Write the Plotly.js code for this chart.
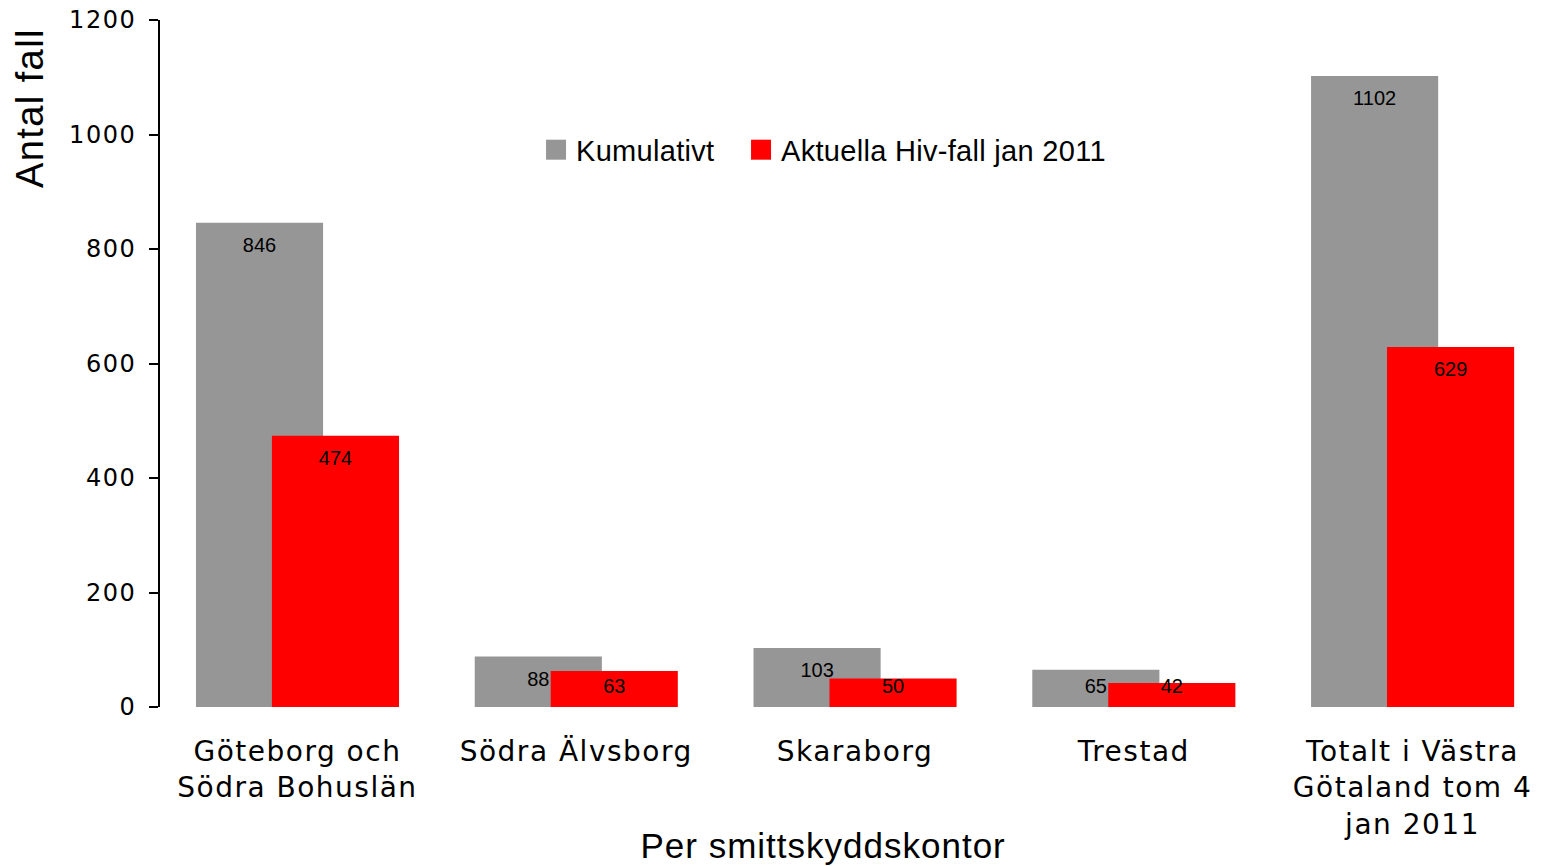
<!DOCTYPE html>
<html><head><meta charset="utf-8">
<script src="https://cdn.plot.ly/plotly-3.0.1.min.js"></script>
<style>
html,body{margin:0;padding:0;background:#fff;}
#chart{width:1543px;height:866px;}
.xtick text{letter-spacing:1.5px;}
.ytick text{letter-spacing:1.5px;}
.legendtext{letter-spacing:0.3px;}
.annotation[data-index="0"] text{letter-spacing:1.4px;}
.annotation[data-index="1"] text{letter-spacing:1px;}
</style></head><body><div id="chart"></div>
<script>
const categories = ["Göteborg och<br>Södra Bohuslän", "Södra Älvsborg", "Skaraborg", "Trestad", "Totalt i Västra<br>Götaland tom 4<br>jan 2011"];
const kumulativt = [846, 88, 103, 65, 1102];
const aktuella = [474, 63, 50, 42, 629];
const seriesNames = ["Kumulativt", "Aktuella Hiv-fall jan 2011"];
const yTickVals = [0, 200, 400, 600, 800, 1000, 1200];
const yTitle = "Antal fall";
const xTitle = "Per smittskyddskontor";

const labelFont = {family: "Liberation Sans, Arial, sans-serif", size: 20, color: "#000"};

const traces = [
  {
    type: "bar", name: seriesNames[0], x: categories, y: kumulativt,
    marker: {color: "#969696"}, width: 0.456, offset: -0.364,
    text: kumulativt.map(String), textposition: "inside", insidetextanchor: "end",
    textangle: 0, constraintext: "none", textfont: labelFont, insidetextfont: labelFont,
    hoverinfo: "none"
  },
  {
    type: "bar", name: seriesNames[1], x: categories, y: aktuella,
    marker: {color: "#FF0000"}, width: 0.456, offset: -0.0915,
    text: aktuella.map(String), textposition: "inside", insidetextanchor: "end",
    textangle: 0, constraintext: "none", textfont: labelFont, insidetextfont: labelFont,
    hoverinfo: "none"
  }
];

const layout = {
  width: 1543, height: 866,
  margin: {l: 160, r: 0, t: 20, b: 159},
  paper_bgcolor: "#fff", plot_bgcolor: "#fff",
  barmode: "overlay",
  showlegend: true,
  legend: {
    orientation: "h", x: 0.2719, xanchor: "left", y: 0.811, yanchor: "middle",
    entrywidth: 160,
    font: {family: "Liberation Sans, Arial, sans-serif", size: 29, color: "#000"},
    bgcolor: "rgba(0,0,0,0)", traceorder: "normal"
  },
  xaxis: {
    type: "category", range: [-0.493, 4.468],
    showline: false, ticks: "", showgrid: false, zeroline: false,
    tickfont: {family: "DejaVu Sans, Verdana, sans-serif", size: 28, color: "#000"},
    ticklabelstandoff: 25
  },
  yaxis: {
    range: [0, 1200], tickmode: "array", tickvals: yTickVals,
    showline: true, linecolor: "#000", linewidth: 2,
    ticks: "outside", ticklen: 9, tickwidth: 2, tickcolor: "#000",
    showgrid: false, zeroline: false,
    tickfont: {family: "DejaVu Sans, Verdana, sans-serif", size: 24, color: "#000"},
    ticklabelstandoff: 8
  },
  annotations: [
    {
      text: yTitle, xref: "paper", yref: "paper", x: -0.094, y: 0.872,
      xanchor: "center", yanchor: "middle", textangle: -90, showarrow: false,
      font: {family: "Liberation Sans, Arial, sans-serif", size: 38, color: "#000"}
    },
    {
      text: xTitle, xref: "paper", yref: "paper", x: 0.4794, y: -0.2009,
      xanchor: "center", yanchor: "middle", showarrow: false,
      font: {family: "Liberation Sans, Arial, sans-serif", size: 35, color: "#000"}
    }
  ]
};

Plotly.newPlot("chart", traces, layout, {displayModeBar: false, staticPlot: true}).then(function(){
  document.querySelectorAll(".legendpoints path").forEach(function(p){
    p.setAttribute("d", "M10,10H-10V-10H10Z");
  });
  // let the last legend entry show in full
  document.querySelectorAll(".legend [clip-path]").forEach(function(el){
    el.removeAttribute("clip-path");
  });
  // place inside labels the way the reference does: a bit lower in tall bars,
  // and just above the base in short bars
  document.querySelectorAll(".trace.bars .point").forEach(function(pt){
    const bar = pt.querySelector("path");
    const txt = pt.querySelector("text");
    if (!bar || !txt) return;
    const br = bar.getBoundingClientRect();
    const tr = txt.getBoundingClientRect();
    let dy;
    if (br.height > 45) {
      dy = 8;
    } else {
      const want = br.bottom - 21;
      dy = want - (tr.top + tr.height / 2);
    }
    const t0 = txt.getAttribute("transform") || "";
    txt.setAttribute("transform", "translate(0," + dy.toFixed(1) + ") " + t0);
  });
});
</script></body></html>
